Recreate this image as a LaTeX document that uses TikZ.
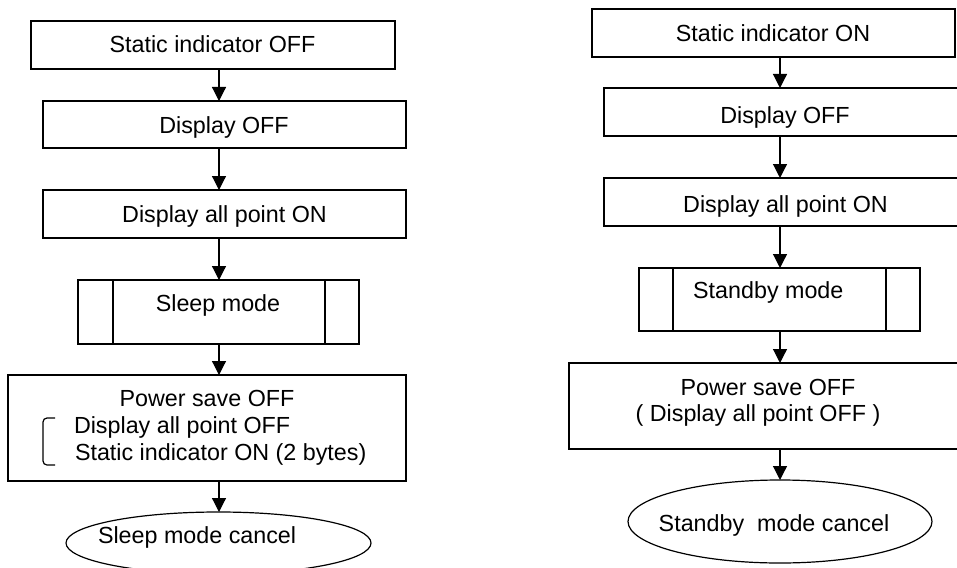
\documentclass[tikz,border=0pt]{standalone}
\usepackage{fontspec}
\setmainfont{Liberation Sans}
\usetikzlibrary{arrows.meta,shapes.geometric}
\begin{document}
\begin{tikzpicture}[x=1pt,y=-1pt,
  box/.style={draw,line width=1.2pt,rectangle,inner sep=0pt,outer sep=0pt},
  oval/.style={draw,line width=1.2pt,ellipse,inner sep=0pt,outer sep=0pt},
  txt/.style={inner sep=0pt,outer sep=0pt,font=\fontsize{23.3}{28}\selectfont},
  arr/.style={line width=1.2pt,-{Triangle[length=14pt,width=14pt]}},
  thin/.style={line width=1.2pt}]
\useasboundingbox (0,0) rectangle (957,567);
\clip (0,0) rectangle (957,567);
% column axes
\coordinate (LX) at (219,0);
\coordinate (RX) at (780,0);
% ---------- left column ----------
\node[box,minimum width=364pt,minimum height=48pt] (L1) at (213,45) {};
\node[box,minimum width=363pt,minimum height=47pt] (L2) at (224.5,124.5) {};
\node[box,minimum width=363pt,minimum height=48pt] (L3) at (224.5,214) {};
\node[box,minimum width=281pt,minimum height=64pt] (L4) at (218.5,312) {};
\node[box,minimum width=398pt,minimum height=106pt] (L5) at (207,428) {};
\node[oval,minimum width=305pt,minimum height=62pt] (LE) at (218.5,543) {};
\draw[thin] (L4.north -| 113,0) -- (L4.south -| 113,0);
\draw[thin] (L4.north -| 325,0) -- (L4.south -| 325,0);
\draw[thin,rounded corners=4pt] (55,418) -- (43,418) -- (43,465) -- (55,465);

\node[txt,anchor=base] (tL1) at (212.5,53) {Static indicator OFF};
\node[txt,anchor=base] (tL2) at (224,133.3) {Display OFF};
\node[txt,anchor=base] (tL3) at (224.5,222.7) {Display all point ON};
\node[txt,anchor=base] (tL4) at (218,311) {Sleep mode};
\node[txt,anchor=base] (tL5a) at (207,406.7) {Power save OFF};
\node[txt,anchor=base west] (tL5b) at (74,433.3) {Display all point OFF};
\node[txt,anchor=base west] (tL5c) at (75,460.3) {Static indicator ON (2 bytes)};
\node[txt,anchor=base west] (tLE) at (98,543.3) {Sleep mode cancel};

\draw[arr] (L1.south -| LX) -- (L2.north -| LX);
\draw[arr] (L2.south -| LX) -- (L3.north -| LX);
\draw[arr] (L3.south -| LX) -- (L4.north -| LX);
\draw[arr] (L4.south -| LX) -- (L5.north -| LX);
\draw[arr] (L5.south -| LX) -- (LE.north -| LX);
% ---------- right column ----------
\node[box,minimum width=363pt,minimum height=48pt] (R1) at (773.5,33) {};
\node[box,minimum width=363pt,minimum height=48pt] (R2) at (785.5,112) {};
\node[box,minimum width=363pt,minimum height=48pt] (R3) at (785.5,202) {};
\node[box,minimum width=281pt,minimum height=63pt] (R4) at (779.5,299.5) {};
\node[box,minimum width=398pt,minimum height=86pt] (R5) at (768,406) {};
\node[oval,minimum width=304pt,minimum height=83pt] (RE) at (780,521.5) {};
\draw[thin] (R4.north -| 673,0) -- (R4.south -| 673,0);
\draw[thin] (R4.north -| 886,0) -- (R4.south -| 886,0);

\node[txt,anchor=base] (tR1) at (773,41.7) {Static indicator ON};
\node[txt,anchor=base] (tR2) at (785,123.3) {Display OFF};
\node[txt,anchor=base] (tR3) at (785.5,212) {Display all point ON};
\node[txt,anchor=base] (tR4) at (768.3,298.3) {Standby mode};
\node[txt,anchor=base] (tR5a) at (768,395) {Power save OFF};
\node[txt,anchor=base] (tR5b) at (758,421) {( Display all point OFF )};
\node[txt,anchor=base] (tRE) at (774,531) {Standby\ \ mode cancel};

\draw[arr] (R1.south -| RX) -- (R2.north -| RX);
\draw[arr] (R2.south -| RX) -- (R3.north -| RX);
\draw[arr] (R3.south -| RX) -- (R4.north -| RX);
\draw[arr] (R4.south -| RX) -- (R5.north -| RX);
\draw[arr] (R5.south -| RX) -- (RE.north -| RX);
\end{tikzpicture}
\end{document}
